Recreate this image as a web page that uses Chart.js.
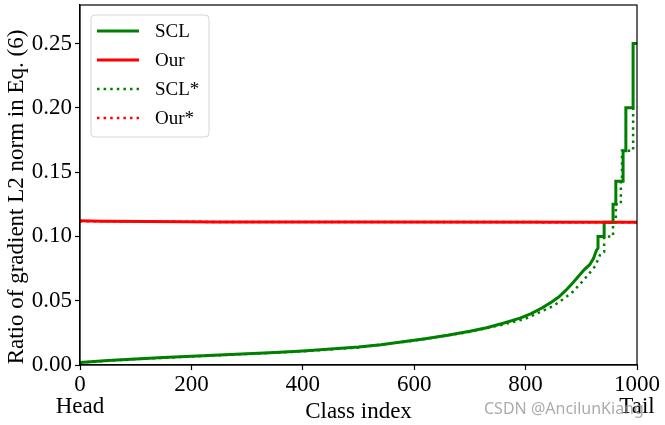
<!DOCTYPE html>
<html>
<head>
<meta charset="utf-8">
<script src="https://cdn.jsdelivr.net/npm/chart.js@4/dist/chart.umd.min.js"></script>
<style>
  html, body { margin: 0; padding: 0; background: #fff; }
  #wrap { width: 665px; height: 425px; }
</style>
</head>
<body>
<div id="wrap"><canvas id="chart" width="665" height="425"></canvas></div>
<script>
// ---- data ----
const sclX = [0, 50, 100, 150, 200, 250, 300, 350, 400, 450, 500, 540, 580, 620, 660, 700, 730, 760, 790, 810,
              830, 845, 860, 872, 885, 895, 905, 915, 922, 927, 930, 930, 941, 941, 957, 957, 962, 962,
              975, 975, 980, 980, 993, 993, 1000];
const sclY = [0.0019, 0.0035, 0.0047, 0.0058, 0.0068, 0.0078, 0.0088, 0.0098, 0.0109, 0.0124, 0.0140, 0.0158,
              0.0180, 0.0205, 0.0232, 0.0263, 0.0290, 0.0325, 0.0365, 0.0400, 0.0445, 0.0485, 0.0530, 0.0580,
              0.0640, 0.0690, 0.0740, 0.0780, 0.0830, 0.0890, 0.0909, 0.1000, 0.1000, 0.1111, 0.1111, 0.1250,
              0.1250, 0.1429, 0.1429, 0.1667, 0.1667, 0.2000, 0.2000, 0.2500, 0.2500];

const sclStarX = [0, 100, 200, 300, 400, 500, 600, 700, 760, 800, 830, 850, 870, 885, 900, 912, 925, 935,
                  941, 941, 957, 957, 962, 962, 971, 971, 973, 973, 993, 993, 1000];
const sclStarY = [0.0019, 0.0046, 0.0066, 0.0086, 0.0106, 0.0136, 0.0190, 0.0258, 0.0315, 0.0360, 0.0420,
                  0.0460, 0.0520, 0.0570, 0.0640, 0.0700, 0.0770, 0.0870, 0.0880, 0.1000, 0.1000, 0.1111,
                  0.1111, 0.1250, 0.1250, 0.1429, 0.1429, 0.1667, 0.1667, 0.2000, 0.2000];

const ourX = [0, 40, 120, 250, 500, 1000];
const ourY = [0.1122, 0.1119, 0.1116, 0.1113, 0.1112, 0.1111];

const ourStarX = [0, 100, 300, 1000];
const ourStarY = [0.1119, 0.1115, 0.1112, 0.1111];

const xTickValues = [0, 200, 400, 600, 800, 1000];
const xTickLabels = ['0', '200', '400', '600', '800', '1000'];
const xTickSubLabels = ['Head', '', '', '', '', 'Tail'];
const yTickValues = [0, 0.05, 0.10, 0.15, 0.20, 0.25];
const yTickLabels = ['0.00', '0.05', '0.10', '0.15', '0.20', '0.25'];

const yTitle = 'Ratio of gradient L2 norm in Eq. (6)';

const SERIF = "'Liberation Serif', 'Times New Roman', serif";
const GREEN = '#008000';
const RED = '#ff0000';

const pts = (xs, ys) => xs.map((x, i) => ({ x, y: ys[i] }));

// frame, y label, legend, watermark
const extras = {
  id: 'extras',
  afterDatasetsDraw(chart) {
    const { ctx, chartArea: a } = chart;
    ctx.save();
    ctx.strokeStyle = '#000';
    ctx.lineWidth = 1.2;
    ctx.strokeRect(a.left, a.top, a.right - a.left, a.bottom - a.top);
    ctx.restore();
  },
  afterDraw(chart) {
    const { ctx, chartArea: a } = chart;
    ctx.save();

    // y axis label (sits a little below the axis centre in the original)
    ctx.save();
    ctx.translate(17, (a.top + a.bottom) / 2 + 12);
    ctx.rotate(-Math.PI / 2);
    ctx.font = '23px ' + SERIF;
    ctx.fillStyle = '#000';
    ctx.textAlign = 'center';
    ctx.textBaseline = 'middle';
    ctx.fillText(yTitle, 0, 0);
    ctx.restore();

    // legend box
    const bx = a.left + 11, by = a.top + 10, bw = 118, bh = 122, r = 4;
    ctx.beginPath();
    ctx.roundRect(bx, by, bw, bh, r);
    ctx.fillStyle = 'rgba(255,255,255,0.85)';
    ctx.fill();
    ctx.strokeStyle = '#d4d4d4';
    ctx.lineWidth = 1;
    ctx.stroke();

    ctx.font = '19px ' + SERIF;
    ctx.textBaseline = 'middle';
    ctx.fillStyle = '#000';
    chart.data.datasets.forEach((ds, i) => {
      const y = by + 16 + i * 29;
      ctx.beginPath();
      ctx.setLineDash(ds.borderDash || []);
      ctx.strokeStyle = ds.borderColor;
      ctx.lineWidth = ds.borderWidth;
      ctx.moveTo(bx + 6, y);
      ctx.lineTo(bx + 48, y);
      ctx.stroke();
      ctx.setLineDash([]);
      ctx.fillText(ds.label, bx + 64, y + 1);
    });

    // watermark
    ctx.font = "16px 'Noto Sans', sans-serif";
    ctx.fillStyle = 'rgba(150,150,150,0.8)';
    ctx.textBaseline = 'alphabetic';
    ctx.fillText('CSDN @AncilunKiang', 484, 414);
    ctx.restore();
  }
};

new Chart(document.getElementById('chart'), {
  type: 'line',
  data: {
    datasets: [
      { label: 'SCL', data: pts(sclX, sclY), borderColor: GREEN, borderWidth: 3, order: 4 },
      { label: 'Our', data: pts(ourX, ourY), borderColor: RED, borderWidth: 3, order: 3 },
      { label: 'SCL*', data: pts(sclStarX, sclStarY), borderColor: GREEN, borderWidth: 2.5, borderDash: [2.5, 4.1], order: 2 },
      { label: 'Our*', data: pts(ourStarX, ourStarY), borderColor: RED, borderWidth: 2.5, borderDash: [2.5, 4.1], order: 1 },
    ]
  },
  options: {
    responsive: false,
    devicePixelRatio: 1,
    animation: false,
    layout: { padding: { top: 5, right: 28, left: 0, bottom: 0 } },
    elements: { point: { radius: 0 }, line: { tension: 0, borderCapStyle: 'butt' } },
    plugins: { legend: { display: false }, tooltip: { enabled: false } },
    scales: {
      x: {
        type: 'linear',
        min: 0, max: 1000,
        afterBuildTicks: s => { s.ticks = xTickValues.map(v => ({ value: v })); },
        afterFit: s => { s.height = 60; s.paddingLeft = 0; s.paddingRight = 0; },
        grid: { drawOnChartArea: false, drawTicks: true, tickLength: 5, tickColor: '#000', tickWidth: 1.2 },
        border: { display: true, color: '#000', width: 1.2 },
        ticks: {
          color: '#000', padding: 4, maxRotation: 0, autoSkip: false,
          font: { family: SERIF, size: 23, lineHeight: 0.95 },
          callback: (v) => {
            const i = xTickValues.indexOf(v);
            return xTickSubLabels[i] ? [xTickLabels[i], xTickSubLabels[i]] : xTickLabels[i];
          }
        },
        title: {
          display: true, text: 'Class index', color: '#000',
          font: { family: SERIF, size: 23 }, padding: { top: 0, bottom: -1 }
        }
      },
      y: {
        min: 0, max: 0.28,
        afterBuildTicks: s => { s.ticks = yTickValues.map(v => ({ value: v })); },
        afterFit: s => { s.width = 80; s.paddingTop = 0; s.paddingBottom = 0; },
        grid: { drawOnChartArea: false, drawTicks: true, tickLength: 5, tickColor: '#000', tickWidth: 1.2 },
        border: { display: true, color: '#000', width: 1.2 },
        ticks: {
          color: '#000', padding: 3, autoSkip: false,
          font: { family: SERIF, size: 23 },
          callback: (v) => yTickLabels[yTickValues.indexOf(v)]
        }
      }
    }
  },
  plugins: [extras]
});
</script>
</body>
</html>
